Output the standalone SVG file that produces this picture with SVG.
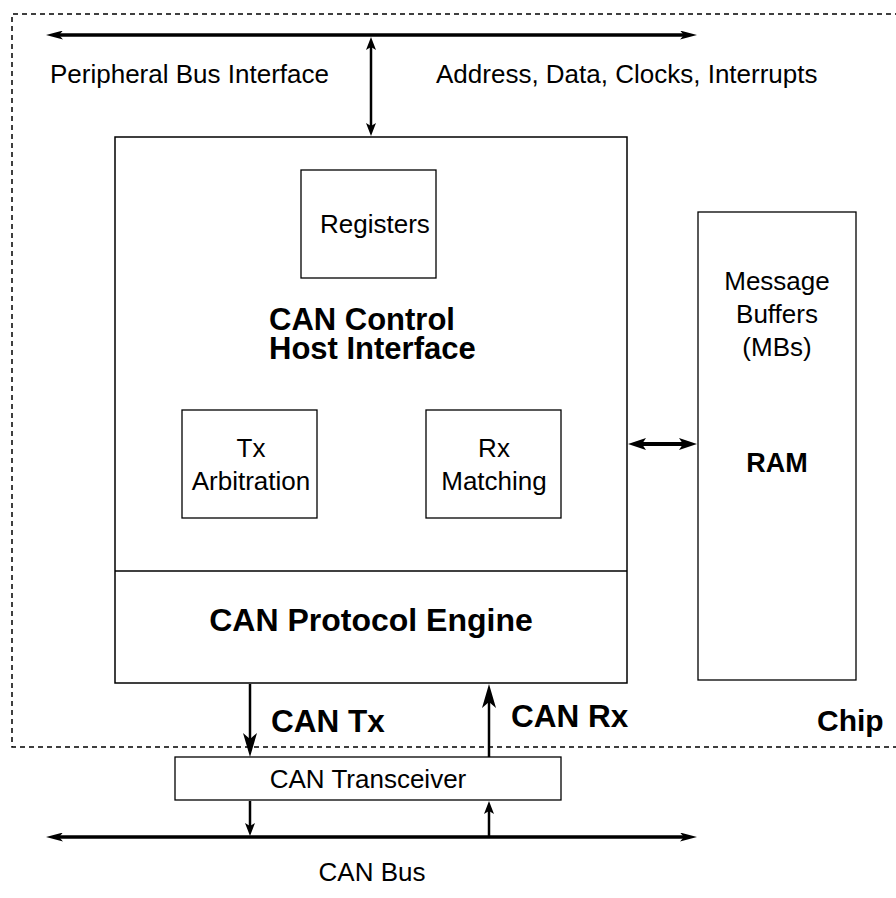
<svg xmlns="http://www.w3.org/2000/svg" width="896" height="898" viewBox="0 0 896 898">
<style>
.box{fill:#fff;stroke:#000;stroke-width:1.5}
.sbox{fill:#fff;stroke:#000;stroke-width:1.3}
.t{font-family:"Liberation Sans",Arial,Helvetica,sans-serif;font-size:26px;fill:#000}
.b{font-family:"Liberation Sans",Arial,Helvetica,sans-serif;font-weight:bold;fill:#000}
.c{text-anchor:middle}
.ln{stroke:#000;fill:none}
</style>
<defs>
<marker id="hb" markerUnits="userSpaceOnUse" viewBox="0 0 17 9" markerWidth="17" markerHeight="9" refX="4" refY="4.5" orient="auto-start-reverse"><path d="M0,0 L17,4.5 L0,9 L4,4.5 Z" fill="#000"/></marker>
<marker id="hs" markerUnits="userSpaceOnUse" viewBox="0 0 13 10" markerWidth="13" markerHeight="10" refX="3" refY="5" orient="auto-start-reverse"><path d="M0,0 L13,5 L0,10 L3,5 Z" fill="#000"/></marker>
<marker id="hm" markerUnits="userSpaceOnUse" viewBox="0 0 24 14" markerWidth="24" markerHeight="14" refX="6" refY="7" orient="auto-start-reverse"><path d="M0,0 L24,7 L0,14 L6,7 Z" fill="#000"/></marker>
<marker id="hr" markerUnits="userSpaceOnUse" viewBox="0 0 18 12" markerWidth="18" markerHeight="12" refX="4" refY="6" orient="auto-start-reverse"><path d="M0,0 L18,6 L0,12 L4,6 Z" fill="#000"/></marker>
</defs>
<rect x="0" y="0" width="896" height="898" fill="#fff"/>

<g id="chip">
<path d="M900,14 H12 V747 H900" fill="none" stroke="#000" stroke-width="1.5" stroke-dasharray="5 4"/>
<text class="b" x="817" y="731" font-size="30">Chip</text>
</g>

<g id="peripheral-bus">
<text class="t" x="50" y="83">Peripheral Bus Interface</text>
<text class="t" x="436" y="83">Address, Data, Clocks, Interrupts</text>
</g>

<g id="can-controller">
<rect class="box" x="115" y="137" width="512" height="546"/>
<line class="ln" x1="115" y1="571" x2="627" y2="571" stroke-width="1.5"/>
<text class="b" x="269" y="330" font-size="31">CAN Control</text>
<text class="b" x="269" y="359" font-size="31">Host Interface</text>
</g>

<g id="protocol-engine">
<text class="b c" x="371" y="631" font-size="32">CAN Protocol Engine</text>
</g>

<g id="registers">
<rect class="sbox" x="301" y="170" width="135" height="108"/>
<text class="t" x="320" y="233">Registers</text>
</g>

<g id="tx-arbitration">
<rect class="sbox" x="182" y="410" width="135" height="108"/>
<text class="t c" x="251" y="457">Tx</text>
<text class="t c" x="251" y="490">Arbitration</text>
</g>

<g id="rx-matching">
<rect class="sbox" x="426" y="410" width="135" height="108"/>
<text class="t c" x="494" y="457">Rx</text>
<text class="t c" x="494" y="490">Matching</text>
</g>

<g id="ram">
<rect class="sbox" x="698" y="212" width="158" height="468"/>
<text class="t c" x="777" y="290">Message</text>
<text class="t c" x="777" y="323">Buffers</text>
<text class="t c" x="777" y="356">(MBs)</text>
<text class="b c" x="777" y="472" font-size="27">RAM</text>
</g>

<g id="transceiver">
<rect class="sbox" x="175" y="757" width="386" height="43"/>
<text class="t c" x="368" y="788">CAN Transceiver</text>
</g>

<g id="can-bus">
<text class="t c" x="372" y="881">CAN Bus</text>
</g>

<g id="connectors">
<line class="ln" x1="59" y1="35" x2="684" y2="35" stroke-width="3.5" marker-start="url(#hb)" marker-end="url(#hb)"/>
<line class="ln" x1="371" y1="47" x2="371" y2="126" stroke-width="2.5" marker-start="url(#hs)" marker-end="url(#hs)"/>
<line class="ln" x1="642" y1="444" x2="683" y2="444" stroke-width="4" marker-start="url(#hr)" marker-end="url(#hr)"/>
<line class="ln" x1="250" y1="684" x2="250" y2="739" stroke-width="2.5" marker-end="url(#hm)"/>
<text class="b" x="271" y="732" font-size="31.5">CAN Tx</text>
<line class="ln" x1="489" y1="757" x2="489" y2="702" stroke-width="2.5" marker-end="url(#hm)"/>
<text class="b" x="511" y="727" font-size="31.5">CAN Rx</text>
<line class="ln" x1="250" y1="801" x2="250" y2="826" stroke-width="2.5" marker-end="url(#hs)"/>
<line class="ln" x1="489" y1="836" x2="489" y2="811" stroke-width="2.5" marker-end="url(#hs)"/>
<line class="ln" x1="59" y1="837" x2="684" y2="837" stroke-width="3.5" marker-start="url(#hb)" marker-end="url(#hb)"/>
</g>
</svg>
